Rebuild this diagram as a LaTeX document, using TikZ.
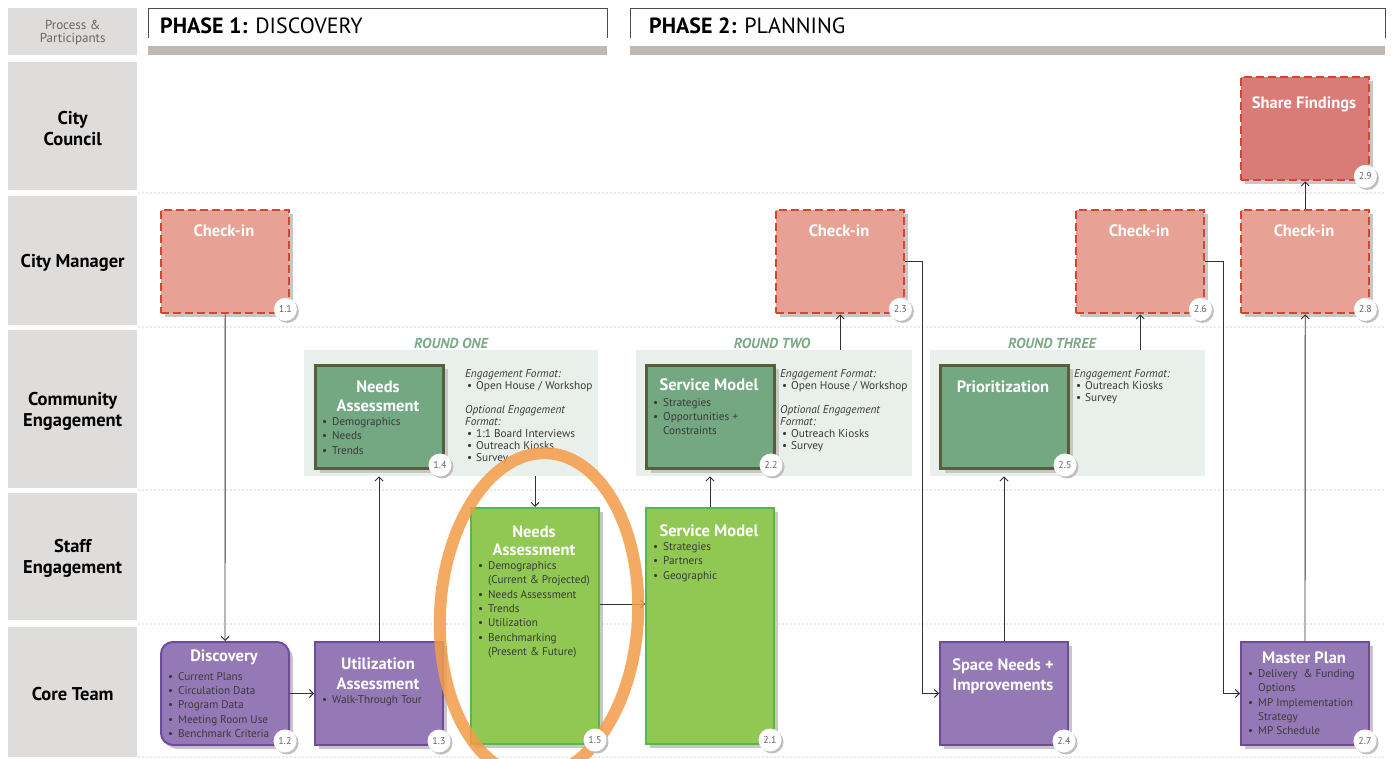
\documentclass[tikz,border=0pt]{standalone}
\usepackage{fontspec}
\setmainfont{PT Sans}
\usetikzlibrary{arrows.meta,shadows}
\definecolor{lblgray}{HTML}{DFDDDC}
\definecolor{bargray}{HTML}{BDB8B3}
\definecolor{ckfill}{HTML}{E8A195}
\definecolor{ckdraw}{HTML}{D8452F}
\definecolor{sffill}{HTML}{D97B77}
\definecolor{panel}{HTML}{E9EFEA}
\definecolor{dgfill}{HTML}{73A882}
\definecolor{dgdraw}{HTML}{565E3B}
\definecolor{lgfill}{HTML}{90C853}
\definecolor{lgdraw}{HTML}{57B847}
\definecolor{pufill}{HTML}{9479B6}
\definecolor{pudraw}{HTML}{6D4C9C}
\definecolor{ellc}{HTML}{F49C48}
\definecolor{rndc}{HTML}{7BAB84}
\definecolor{btc}{HTML}{3A3A3A}
\tikzset{
  lblbox/.style={fill=lblgray, inner sep=0, anchor=north west},
  rowlbl/.style={font=\bfseries\fontsize{18.5}{21}\selectfont, align=center, text=black, yshift=-2pt},
  sep/.style={draw=black!35, line width=1.3pt, dash pattern=on 0pt off 4pt, line cap=round},
  shad/.style={drop shadow={shadow xshift=4pt, shadow yshift=-4pt, fill=black!22, opacity=1}},
  basebox/.style={anchor=north west, inner sep=0, minimum width=128pt, minimum height=103pt, shad},
  ckbox/.style={basebox, fill=ckfill, draw=ckdraw, line width=2.4pt, dash pattern=on 8pt off 4pt},
  sfbox/.style={ckbox, fill=sffill},
  dgbox/.style={basebox, fill=dgfill, draw=dgdraw, line width=3pt},
  lgbox/.style={basebox, fill=lgfill, draw=lgdraw, line width=2pt, minimum height=236pt},
  pubox/.style={basebox, fill=pufill, draw=pudraw, line width=2pt},
  panelbox/.style={anchor=north west, fill=panel, inner sep=0, minimum height=126pt},
  numc/.style={circle, fill=white, minimum size=23pt, inner sep=0, text=black!60,
     font=\fontsize{10}{11}\selectfont,
     drop shadow={shadow xshift=2pt, shadow yshift=-2pt, fill=black!25, opacity=1}},
  txt/.style={inner sep=0, text height=1.6ex, text depth=0.4ex},
  ttl/.style={txt, text=white, font=\bfseries\fontsize{16.5}{18}\selectfont, yshift=-3pt},
  btxt/.style={txt, anchor=west, text=btc, font=\fontsize{11.2}{13}\selectfont, yshift=-1.5pt},
  etxt/.style={txt, anchor=west, text=btc, font=\fontsize{11.3}{12}\selectfont, yshift=-1.5pt},
  eitx/.style={etxt, font=\itshape\fontsize{11.3}{12}\selectfont},
  rnd/.style={txt, text=rndc, font=\bfseries\itshape\fontsize{14.5}{16}\selectfont, yshift=-3pt},
  conn/.style={draw=black!80, line width=0.9pt, -{Straight Barb[length=4pt,width=8pt]}},
}
\newcommand\ttlat[3]{\node[ttl] at (#1,#2) {#3};}
\newcommand\itm[3]{\node[btxt] at (#1,#2) {\textbullet}; \node[btxt] at (#1+10,#2) {#3};}
\newcommand\cnt[3]{\node[btxt] at (#1+10,#2) {#3};}
\newcommand\eitm[3]{\node[etxt] at (#1,#2) {\textbullet}; \node[etxt] at (#1+9,#2) {#3};}
\begin{document}
\begin{tikzpicture}[x=1pt,y=-1pt]
\useasboundingbox[fill=white] (0,0) rectangle (1393,759);

% left labels
\node[lblbox, minimum width=129pt, minimum height=47pt] (lp) at (8,8) {};
\node[lblbox, minimum width=129pt, minimum height=128pt] (lcc) at (8,62) {};
\node[lblbox, minimum width=129pt, minimum height=129pt] (lcm) at (8,196) {};
\node[lblbox, minimum width=129pt, minimum height=158pt] (lce) at (8,330) {};
\node[lblbox, minimum width=129pt, minimum height=127pt] (lse) at (8,493) {};
\node[lblbox, minimum width=129pt, minimum height=130pt] (lct) at (8,627) {};
\node[align=center, text=black!60, font=\fontsize{13}{13.5}\selectfont, yshift=-1pt] at (lp.center) {Process \&\\Participants};
\node[rowlbl] at (lcc.center) {City\\Council};
\node[rowlbl] at (lcm.center) {City Manager};
\node[rowlbl] at (lce.center) {Community\\Engagement};
\node[rowlbl] at (lse.center) {Staff\\Engagement};
\node[rowlbl] at (lct.center) {Core Team};

% separators
\foreach \yy in {193,327,490,624,757} \draw[sep] (139,\yy) -- (1385,\yy);

% phase headers
\draw[black!70, line width=0.8pt] (148,38) -- (148,8) -- (607,8) -- (607,38);
\fill[bargray] (148,46) rectangle (607,55);
\node[txt, anchor=west, font=\fontsize{22}{24}\selectfont, yshift=-5pt] at (160,26) {\textbf{PHASE 1:} DISCOVERY};
\draw[black!70, line width=0.8pt] (630,38) -- (630,8) -- (1385,8) -- (1385,38);
\fill[bargray] (630,46) rectangle (1385,55);
\node[txt, anchor=west, font=\fontsize{22}{24}\selectfont, yshift=-5pt] at (649,26) {\textbf{PHASE 2:} PLANNING};

% engagement panels
\node[panelbox, minimum width=294pt] (r1) at (304,350) {};
\node[panelbox, minimum width=276pt] (r2) at (636,350) {};
\node[panelbox, minimum width=275pt] (r3) at (930,350) {};
\node[rnd] at (451,343) {ROUND ONE};
\node[rnd] at (772,343) {ROUND TWO};
\node[rnd] at (1052,343) {ROUND THREE};

% boxes
\node[sfbox] (sf29) at (1240,76) {};
\node[ckbox] (c11) at (160,209) {};
\node[ckbox] (c23) at (775,209) {};
\node[ckbox] (c26) at (1075,209) {};
\node[ckbox] (c28) at (1240,209) {};
\node[dgbox] (na14) at (314,364) {};
\node[dgbox] (sm22) at (645,364) {};
\node[dgbox] (pr25) at (939,364) {};
\node[lgbox] (na15) at (470,507) {};
\node[lgbox] (sm21) at (645,507) {};
\node[pubox, rounded corners=12pt] (disc) at (160,641) {};
\node[pubox] (util) at (314,641) {};
\node[pubox] (sn24) at (939,641) {};
\node[pubox] (mp27) at (1240,641) {};

% number circles
\foreach \b/\n in {sf29/2.9, c11/1.1, c23/2.3, c26/2.6, c28/2.8, na14/1.4, sm22/2.2, pr25/2.5, sm21/2.1, disc/1.2, util/1.3, sn24/2.4, mp27/2.7}
  \node[numc] at ([xshift=-5pt, yshift=5pt]\b.south east) {\n};

% titles
\ttlat{1304}{103}{Share Findings}
\ttlat{224}{231}{Check-in}
\ttlat{839}{231}{Check-in}
\ttlat{1139}{231}{Check-in}
\ttlat{1304}{231}{Check-in}
\ttlat{378}{386}{Needs}
\ttlat{378}{405}{Assessment}
\ttlat{709}{385}{Service Model}
\ttlat{1003}{386}{Prioritization}
\ttlat{534}{531}{Needs}
\ttlat{534}{549}{Assessment}
\ttlat{709}{530}{Service Model}
\ttlat{224}{655}{Discovery}
\ttlat{378}{663}{Utilization}
\ttlat{378}{683}{Assessment}
\ttlat{1003}{664}{Space Needs +}
\ttlat{1003}{684}{Improvements}
\ttlat{1304}{657}{Master Plan}

% bullets
\itm{322}{421}{Demographics}
\itm{322}{435}{Needs}
\itm{322}{450}{Trends}
\itm{653}{402}{Strategies}
\itm{653}{416}{Opportunities +}
\cnt{653}{430}{Constraints}
\itm{478}{565}{Demographics}
\cnt{478}{579}{(Current \& Projected)}
\itm{478}{594}{Needs Assessment}
\itm{478}{608}{Trends}
\itm{478}{622}{Utilization}
\itm{478}{637}{Benchmarking}
\cnt{478}{651}{(Present \& Future)}
\itm{653}{546}{Strategies}
\itm{653}{560}{Partners}
\itm{653}{575}{Geographic}
\itm{168}{676}{Current Plans}
\itm{168}{690}{Circulation Data}
\itm{168}{704}{Program Data}
\itm{168}{719}{Meeting Room Use}
\itm{168}{733}{Benchmark Criteria}
\itm{322}{699}{Walk-Through Tour}
\itm{1248}{673}{Delivery \ \& Funding}
\cnt{1248}{687}{Options}
\itm{1248}{702}{MP Implementation}
\cnt{1248}{716}{Strategy}
\itm{1248}{730}{MP Schedule}

% engagement formats
\node[eitx] at (465,373) {Engagement Format:};
\eitm{467}{385}{Open House / Workshop}
\node[eitx] at (465,409) {Optional Engagement};
\node[eitx] at (465,421) {Format:};
\eitm{467}{433}{1:1 Board Interviews}
\eitm{467}{445}{Outreach Kiosks}
\eitm{467}{457}{Survey}
\node[eitx] at (780,373) {Engagement Format:};
\eitm{782}{385}{Open House / Workshop}
\node[eitx] at (780,409) {Optional Engagement};
\node[eitx] at (780,421) {Format:};
\eitm{782}{433}{Outreach Kiosks}
\eitm{782}{445}{Survey}
\node[eitx] at (1074,373) {Engagement Format:};
\eitm{1076}{385}{Outreach Kiosks}
\eitm{1076}{397}{Survey}

% connectors
\draw[conn] (c11.south) -- (disc.north);
\draw[conn] (disc.east) -- (util.west);
\draw[conn] (util.north) -- (util.north |- r1.south);
\draw[conn] (na15.north |- r1.south) -- (na15.north);
\draw[conn] ([yshift=22pt]na15.east) -- ([yshift=22pt]sm21.west);
\draw[conn] (sm21.north) -- (sm21.north |- r2.south);
\draw[conn] (c23.south |- r2.north) -- (c23.south);
\draw[conn] (c23.east) -- ++(17,0) |- (sn24.west);
\draw[conn] (sn24.north) -- (sn24.north |- r3.south);
\draw[conn] (c26.south |- r3.north) -- (c26.south);
\draw[conn] (c26.east) -- ++(18,0) |- (mp27.west);
\draw[conn] (mp27.north) -- (c28.south);
\draw[conn] (c28.north) -- (sf29.south);

% highlight ellipse
\draw[ellc, line width=12pt, opacity=0.85, rotate around={-3:(539,615)}] (539,615) ellipse [x radius=99, y radius=162];
\node[numc] (n15) at ([xshift=-5pt, yshift=5pt]na15.south east) {1.5};
\end{tikzpicture}
\end{document}
